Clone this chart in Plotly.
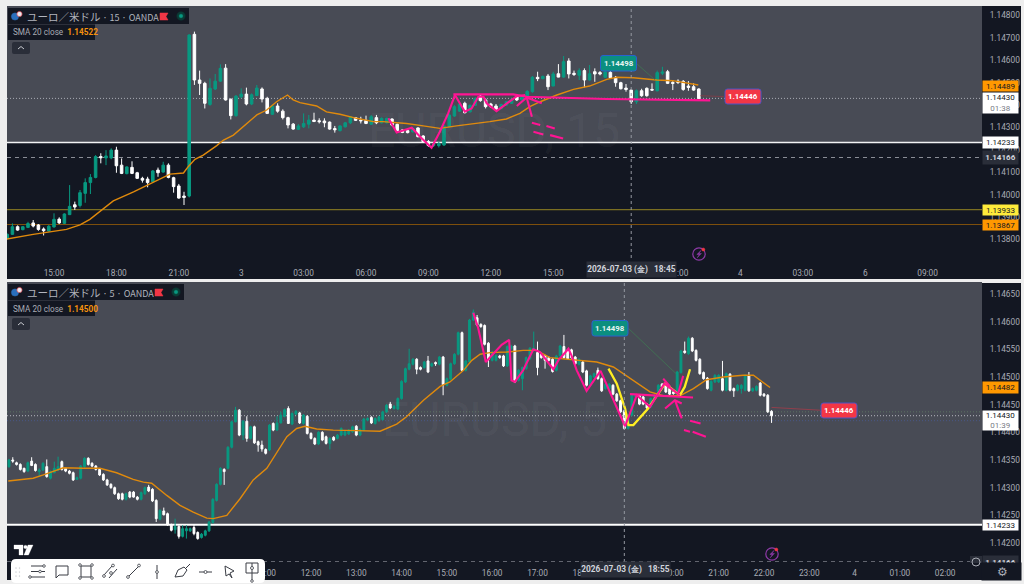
import plotly.graph_objects as go

W, H = 1024, 584

# ---- 15 minute pane (prices in 1/100000 above 1.0) ----
t_first_bar = -9
t_open = [13805,13823,13857,13844,13854,13874,13865,13847,13838,13856,13891,13872,13911,13955,13952,14006,14054,14077,14170,14164,
14164,14199,14132,14094,14122,14098,14073,14070,14058,14110,14101,14132,14076,14039,13994,13994,14716,14512,14497,14403,
14472,14507,14565,14426,14353,14437,14449,14405,14443,14472,14430,14359,14396,14373,14344,14315,14292,14303,14315,14333,
14330,14329,14324,14295,14286,14303,14321,14344,14333,14332,14315,14344,14321,14321,14338,14314,14289,14286,14281,14298,
14262,14237,14220,14219,14222,14304,14351,14373,14408,14370,14399,14440,14423,14405,14396,14385,14400,14408,14437,14423,
14440,14460,14524,14518,14530,14485,14540,14525,14597,14542,14533,14554,14512,14549,14545,14524,14546,14524,14500,14476,
14467,14415,14464,14475,14470,14464,14542,14549,14501,14507,14506,14485,14482,14472]
t_high = [13827,13872,13863,13860,13879,13887,13869,13854,13865,13917,13899,13917,14043,13969,14021,14073,14092,14177,14185,14199,
14207,14214,14162,14127,14149,14102,14080,14080,14110,14121,14147,14140,14080,14048,14013,14716,14728,14554,14504,14519,
14539,14582,14583,14430,14445,14475,14478,14452,14490,14479,14437,14400,14408,14381,14348,14320,14315,14363,14356,14366,
14341,14341,14327,14307,14310,14325,14351,14347,14348,14353,14356,14356,14345,14344,14341,14318,14292,14289,14300,14301,
14266,14244,14232,14237,14310,14363,14400,14415,14415,14403,14433,14445,14430,14410,14405,14406,14418,14430,14441,14441,
14467,14530,14549,14532,14539,14549,14583,14619,14609,14554,14564,14564,14579,14564,14552,14552,14557,14530,14504,14494,
14470,14470,14473,14479,14497,14554,14571,14557,14512,14515,14512,14507,14497,14475]
t_low = [13801,13820,13839,13841,13851,13854,13839,13818,13835,13853,13869,13869,13909,13932,13943,13964,14003,14073,14140,14132,
14158,14098,14092,14091,14092,14070,14054,14033,14055,14080,14098,14073,14009,13982,13954,13988,14490,14445,14385,14397,
14467,14504,14420,14336,14348,14430,14399,14400,14440,14412,14360,14356,14366,14336,14296,14290,14289,14298,14296,14324,
14318,14301,14290,14277,14282,14300,14315,14329,14318,14315,14311,14315,14318,14318,14306,14282,14275,14274,14277,14256,
14233,14214,14213,14211,14218,14301,14348,14370,14363,14366,14396,14415,14385,14388,14373,14381,14396,14405,14418,14420,
14437,14455,14507,14515,14467,14485,14524,14522,14519,14530,14512,14479,14509,14504,14533,14521,14519,14482,14470,14460,
14405,14405,14437,14437,14464,14461,14534,14494,14467,14494,14464,14464,14464,14427]
t_close = [13823,13857,13842,13857,13871,13860,13845,13839,13859,13890,13874,13914,13948,13945,14009,14054,14077,14170,14165,14173,
14199,14129,14095,14124,14095,14073,14065,14054,14106,14098,14132,14077,14036,13985,13988,14713,14512,14497,14408,14475,
14507,14564,14423,14353,14440,14449,14405,14446,14476,14427,14363,14396,14373,14344,14311,14293,14307,14318,14333,14327,
14326,14321,14293,14290,14307,14321,14348,14332,14330,14318,14348,14321,14341,14341,14311,14286,14278,14277,14296,14259,
14237,14220,14226,14229,14307,14356,14393,14405,14366,14399,14430,14420,14393,14393,14381,14403,14415,14425,14423,14437,
14461,14524,14518,14528,14482,14539,14525,14594,14539,14537,14554,14512,14540,14539,14539,14548,14522,14500,14473,14470,
14415,14464,14442,14442,14467,14545,14548,14497,14497,14501,14470,14479,14467,14430]

t_sma_bar = [-9.1,-4,2.4,5,6.9,9.5,11.4,15.3,20.4,22.3,24.9,25.8,27.1,28.7,31.3,32.6,34.5,36.7,39,40.9,42.8,44.9,46,47.3,50.5,52.4,55,
58.2,61.4,63.3,67.8,71,74.2,77.4,80.6,83.8,87,89.6,91.5,93.5,96.7,99.9,103,106.3,108.2,111.4,115.9,119,123.9]
t_sma_val = [13802,13823,13845,13865,13890,13939,13972,14013,14068,14092,14097,14125,14158,14177,14219,14244,14266,14311,14356,14378,14415,14445,14423,14411,14396,14370,14359,
14341,14326,14326,14318,14307,14296,14307,14315,14326,14338,14363,14393,14415,14445,14470,14485,14515,14524,14522,14512,14509,14490]

t_tick_bar = [0,12,24,36,48,60,72,84,96,108,120,132,144,156,168]
t_tick_txt = ["15:00","18:00","21:00","3","03:00","06:00","09:00","12:00","15:00","18:00","21:00","4","03:00","6","09:00"]
t_price_ticks = [14800,14700,14600,14500,14400,14300,14200,14100,14000,13900,13800]

# hand drawn strokes, top pane (bar, price)
t_pink = [
 ([64.3,65.9,68.8,70.4,72.6,74.2,75.8,77.1,79,80.3,81.6,82.6,83.2,85.1,89,90.6],
  [14341,14278,14299,14259,14210,14281,14363,14445,14371,14385,14437,14437,14408,14373,14440,14445]),
 ([76.8,88.3,90.9,106.3,126.2],[14448,14448,14437,14427,14421]),
 ([89,90.9,93.8],[14396,14434,14408]),
 ([90.9,91.9],[14434,14348]),
 ([91.9,93.5],[14321,14311]),
 ([94.7,96.3],[14307,14296]),
 ([92.2,94.1],[14281,14269]),
 ([95.4,97.9],[14266,14251]),
]

# ---- 5 minute pane ----
b_first_bar = -80
b_open = [14338,14350,14345,14342,14335,14330,14348,14342,14329,14332,14338,14317,14327,14332,14347,14335,14330,14327,14315,14317,
14338,14353,14344,14339,14333,14324,14314,14306,14300,14289,14289,14279,14292,14292,14283,14279,14289,14301,14297,14277,
14243,14258,14253,14233,14224,14230,14212,14222,14222,14228,14219,14210,14214,14222,14237,14277,14306,14333,14335,14373,
14419,14440,14395,14420,14389,14410,14383,14377,14369,14368,14416,14404,14417,14429,14443,14415,14433,14435,14416,14429,
14398,14389,14379,14400,14392,14380,14391,14389,14395,14395,14397,14401,14411,14395,14404,14422,14427,14416,14421,14423,
14437,14451,14443,14442,14461,14491,14514,14523,14532,14517,14517,14529,14520,14526,14523,14536,14485,14496,14524,14541,
14580,14512,14527,14603,14607,14595,14593,14561,14530,14530,14538,14538,14520,14551,14556,14494,14497,14515,14533,14548,
14544,14541,14538,14535,14532,14512,14538,14555,14547,14549,14536,14523,14527,14511,14485,14500,14512,14497,14479,14479,
14485,14469,14457,14439,14407,14431,14464,14467,14464,14451,14446,14461,14467,14487,14487,14479,14473,14469,14508,14547,
14542,14570,14548,14532,14508,14498,14476,14491,14491,14497,14476,14505,14479,14476,14479,14476,14503,14475,14476,14489,
14469,14467,14438]
b_high = [14352,14355,14347,14344,14336,14347,14355,14344,14335,14346,14351,14331,14347,14356,14349,14337,14332,14329,14320,14341,
14355,14355,14346,14341,14335,14326,14316,14308,14302,14291,14291,14291,14294,14294,14285,14293,14302,14305,14299,14279,
14261,14264,14255,14235,14244,14232,14232,14232,14228,14234,14221,14218,14224,14240,14281,14308,14337,14335,14375,14421,
14446,14442,14422,14429,14412,14412,14385,14385,14371,14415,14418,14429,14437,14443,14447,14436,14440,14437,14433,14431,
14400,14391,14402,14402,14394,14391,14393,14397,14409,14403,14406,14412,14413,14407,14426,14427,14429,14427,14430,14439,
14451,14455,14449,14463,14494,14517,14551,14534,14534,14519,14529,14538,14526,14528,14538,14538,14499,14526,14543,14582,
14582,14531,14605,14622,14612,14597,14595,14563,14547,14541,14540,14540,14557,14558,14558,14514,14519,14537,14554,14582,
14564,14543,14540,14537,14534,14540,14558,14576,14549,14551,14538,14534,14529,14513,14504,14508,14517,14499,14489,14489,
14487,14471,14459,14441,14433,14469,14469,14469,14466,14453,14463,14469,14487,14489,14489,14481,14475,14511,14549,14564,
14573,14572,14550,14534,14510,14500,14494,14505,14505,14529,14508,14507,14481,14487,14487,14505,14509,14481,14485,14491,
14471,14469,14440]
b_low = [14336,14345,14340,14331,14327,14328,14339,14329,14320,14330,14318,14315,14326,14330,14331,14328,14324,14312,14314,14315,
14336,14340,14337,14331,14321,14312,14303,14298,14287,14278,14277,14277,14281,14282,14277,14277,14287,14292,14274,14238,
14241,14250,14231,14221,14217,14208,14210,14208,14220,14214,14206,14208,14212,14220,14235,14275,14304,14305,14333,14371,
14418,14393,14386,14383,14387,14379,14365,14365,14360,14366,14402,14403,14416,14427,14415,14413,14431,14415,14414,14396,
14387,14377,14377,14384,14378,14369,14384,14387,14393,14393,14395,14399,14393,14393,14402,14420,14415,14414,14419,14421,
14435,14442,14441,14440,14459,14489,14512,14521,14505,14512,14515,14507,14518,14520,14521,14467,14483,14494,14522,14539,
14510,14510,14525,14601,14592,14589,14557,14518,14528,14528,14533,14518,14518,14549,14489,14492,14476,14513,14531,14546,
14503,14533,14515,14528,14508,14510,14536,14533,14531,14533,14522,14521,14507,14483,14483,14498,14495,14473,14477,14477,
14467,14455,14435,14405,14405,14429,14462,14449,14449,14442,14444,14459,14465,14480,14471,14467,14468,14467,14506,14542,
14540,14545,14528,14504,14495,14477,14474,14489,14489,14474,14474,14474,14464,14474,14470,14474,14473,14473,14474,14465,
14464,14435,14417]
b_close = [14350,14348,14342,14333,14329,14345,14340,14331,14332,14344,14320,14329,14335,14338,14333,14330,14326,14314,14318,14339,
14353,14342,14339,14333,14323,14314,14305,14300,14289,14280,14279,14289,14283,14283,14279,14291,14300,14294,14276,14244,
14259,14251,14233,14223,14230,14212,14226,14226,14226,14217,14208,14216,14222,14238,14279,14306,14335,14329,14373,14419,
14440,14395,14420,14389,14410,14381,14377,14370,14362,14413,14404,14417,14431,14441,14416,14434,14438,14417,14431,14398,
14389,14379,14400,14386,14380,14389,14386,14395,14407,14401,14404,14410,14395,14405,14424,14425,14417,14425,14428,14437,
14449,14444,14447,14461,14492,14515,14524,14532,14514,14514,14527,14509,14524,14524,14536,14486,14497,14524,14541,14580,
14512,14529,14603,14617,14594,14591,14559,14532,14545,14539,14535,14520,14555,14556,14491,14512,14517,14535,14552,14552,
14517,14535,14530,14530,14510,14538,14556,14535,14533,14535,14524,14532,14509,14485,14502,14506,14497,14475,14487,14487,
14469,14457,14437,14407,14431,14467,14467,14451,14451,14444,14461,14467,14485,14482,14473,14469,14470,14509,14547,14544,
14570,14547,14530,14506,14497,14479,14492,14503,14503,14476,14506,14476,14475,14485,14485,14503,14475,14479,14483,14467,
14466,14437,14430]

b_sma_bar = [-80.2,-77.1,-73.6,-70.9,-68.3,-65.6,-60.3,-55.9,-51.5,-47.1,-44.4,-42.2,-38.2,-34.7,-31.2,-27.6,-25.9,-22.3,-18.8,-15.3,-11.7,-9.1,-6.4,-3.8,-1.6,1.5,5.9,
12.1,18.3,22.7,25.3,29.8,34.2,36.8,40.4,42.6,44.8,47.4,51.8,56.2,59.8,63.3,67.7,71.3,75.7,80.1,84.5,89.8,93.3,97.7,101.3,104.8,109.2,114.5,117.2,121.6]
b_sma_val = [14312,14314,14317,14323,14329,14336,14335,14335,14327,14315,14310,14308,14286,14268,14256,14245,14244,14250,14280,14314,14335,14362,14392,14407,14411,14406,14404,
14403,14402,14415,14428,14458,14483,14491,14512,14530,14541,14544,14545,14548,14548,14535,14532,14529,14527,14518,14497,14473,14466,14466,14479,14495,14500,14503,14503,14481]

b_tick_bar = [-24,-12,0,12,24,36,48,60,72,84,96,108,120,132,144,156,168]
b_tick_txt = ["10:00","11:00","12:00","13:00","14:00","15:00","16:00","17:00","18:00","19:00","20:00","21:00","22:00","23:00","4","01:00","02:00"]
b_price_ticks = [14650,14600,14550,14500,14450,14400,14350,14300,14250,14200]

b_pink = [
 ([43,44.3,46.3,48.3,50.5,52.5,53.1,54,56.2,58.9,60.7,64.2,65.5,68.2,69,70.4,73,76.7,83.2,86.3,89.8,93.6,97.7],
  [14616,14588,14527,14542,14558,14567,14494,14491,14512,14550,14545,14514,14530,14551,14539,14512,14475,14511,14411,14467,14446,14488,14467]),
 ([84.5,101.2],[14469,14463]),
 ([93.8,96.4,98.2],[14443,14458,14452]),
 ([96.4,98.2],[14458,14425]),
 ([93.3,95.1],[14497,14483]),
 ([98.6,97.3],[14502,14471]),
 ([100.4,103.2],[14421,14416]),
 ([98.8,100.4],[14404,14401]),
 ([101.1,104.6],[14401,14392]),
]
b_yellow = ([78.8,81,83.2,84.1,85.4,89.3,93.8,97.7,99,100.4],
            [14515,14488,14443,14413,14413,14443,14488,14467,14482,14514])

level_white = 14233
level_dash = 14166
level_yellow = 13933
level_orange = 13867
level_last = 14430
level_callout_a = 14437
level_callout_b = 14421

UP, DOWN = "#089981", "#ffffff"
SMA = "#e08a0c"
PINK = "#ff1493"
DARK = "#131722"
GRAY = "#484b55"
LABEL = "#a9acb5"


def pr(v):
    return 1 + v / 100000


def prs(vs):
    return [pr(v) for v in vs]


def fx(x):
    return x / W


def fy(y):
    return 1 - y / H


fig = go.Figure()


def candles(first, o, h, l, c, xa, ya):
    fig.add_trace(go.Candlestick(
        x=list(range(first, first + len(o))), open=prs(o), high=prs(h), low=prs(l), close=prs(c),
        xaxis=xa, yaxis=ya, whiskerwidth=0, hoverinfo="skip", showlegend=False,
        increasing=dict(line=dict(color=UP, width=1), fillcolor=UP),
        decreasing=dict(line=dict(color=DOWN, width=1), fillcolor=DOWN)))


def line(xs, ys, xa, ya, color, width):
    fig.add_trace(go.Scatter(x=xs, y=prs(ys), xaxis=xa, yaxis=ya, mode="lines", hoverinfo="skip",
                             showlegend=False, line=dict(color=color, width=width)))


candles(t_first_bar, t_open, t_high, t_low, t_close, "x", "y")
candles(b_first_bar, b_open, b_high, b_low, b_close, "x2", "y2")
line(t_sma_bar, t_sma_val, "x", "y", SMA, 1.4)
line(b_sma_bar, b_sma_val, "x2", "y2", SMA, 1.4)
line([112, 115.6], [14586, 14512], "x", "y", "#3d7d52", 0.7)
line([124.3, 128.8], [14442, 14438], "x", "y", "#8f3a45", 0.7)
line([84.06, 96.7], [14588, 14506], "x2", "y2", "#3d7d52", 0.7)
line([122, 134.8], [14445, 14440], "x2", "y2", "#b03a48", 0.7)
for xs, ys in t_pink:
    line(xs, ys, "x", "y", PINK, 2.1)
line(b_yellow[0], b_yellow[1], "x2", "y2", "#ffee22", 2.3)
for xs, ys in b_pink:
    line(xs, ys, "x2", "y2", PINK, 2.1)

shapes = []
ann = []


def rect(x0, y0, x1, y1, fill, layer="below", ln=None):
    shapes.append(dict(type="rect", xref="paper", yref="paper", x0=fx(x0), x1=fx(x1), y0=fy(y0), y1=fy(y1),
                       fillcolor=fill, layer=layer, line=dict(width=0) if ln is None else ln))


def rrect(x0, y0, x1, y1, r, fill, layer="above", border=None):
    p = (f"M{fx(x0+r)},{fy(y0)} L{fx(x1-r)},{fy(y0)} Q{fx(x1)},{fy(y0)} {fx(x1)},{fy(y0+r)} "
         f"L{fx(x1)},{fy(y1-r)} Q{fx(x1)},{fy(y1)} {fx(x1-r)},{fy(y1)} L{fx(x0+r)},{fy(y1)} "
         f"Q{fx(x0)},{fy(y1)} {fx(x0)},{fy(y1-r)} L{fx(x0)},{fy(y0+r)} Q{fx(x0)},{fy(y0)} {fx(x0+r)},{fy(y0)} Z")
    ln = dict(color=border, width=1) if border else dict(width=0)
    shapes.append(dict(type="path", xref="paper", yref="paper", path=p, fillcolor=fill, layer=layer, line=ln))


def poly(pts, color="#333333", width=1, fill=None, close=False, layer="above"):
    p = "M" + " L".join(f"{fx(a)},{fy(b)}" for a, b in pts) + (" Z" if close else "")
    shapes.append(dict(type="path", xref="paper", yref="paper", path=p, layer=layer,
                       fillcolor=fill if fill else "rgba(0,0,0,0)", line=dict(color=color, width=width)))


def circ(cx, cy, r, fill="rgba(0,0,0,0)", color="#333333", width=1, layer="above"):
    shapes.append(dict(type="circle", xref="paper", yref="paper", x0=fx(cx - r), x1=fx(cx + r), y0=fy(cy - r), y1=fy(cy + r),
                       fillcolor=fill, layer=layer, line=dict(color=color, width=width)))


def level(v, xd, ya, color, width, dash="solid"):
    shapes.append(dict(type="line", xref=xd, yref=ya, x0=0, x1=1, y0=pr(v), y1=pr(v), layer="below",
                       line=dict(color=color, width=width, dash=dash)))


def text(x, y, s, size=8, color=LABEL, anchor="left", fam="Roboto", **kw):
    ann.append(dict(xref="paper", yref="paper", x=fx(x), y=fy(y), text=s, showarrow=False, xanchor=anchor, yanchor="middle",
                    font=dict(family=fam, size=size, color=color), borderpad=0, **kw))


def tag(x0, y0, x1, y1, s, bg, fg, size=8):
    ann.append(dict(xref="paper", yref="paper", x=fx((x0 + x1) / 2), y=fy((y0 + y1) / 2), text=s, showarrow=False,
                    xanchor="center", yanchor="middle", width=x1 - x0, height=y1 - y0, align="center", valign="middle",
                    bgcolor=bg, borderpad=0, font=dict(family="Roboto", size=size, color=fg)))


def callout(x0, y0, x1, y1, s, bg, border, fg):
    rrect(x0, y0, x1, y1, 2.5, bg, "above", border)
    text((x0 + x1) / 2, (y0 + y1) / 2, f"<b>{s}</b>", 7.8, fg, "center")


# page background and pane backgrounds
rect(7, 6, 1021, 279, DARK)
rect(7, 283, 1021, 580, DARK)
shapes.append(dict(type="rect", xref="x domain", yref="y", x0=0, x1=1, y0=pr(level_white), y1=1.148424,
                   fillcolor=GRAY, layer="below", line=dict(width=0)))
shapes.append(dict(type="rect", xref="x2 domain", yref="y2", x0=0, x1=1, y0=pr(level_white), y1=1.146716,
                   fillcolor=GRAY, layer="below", line=dict(width=0)))

level(level_white, "x domain", "y", "#f2f3f5", 1.6)
level(level_dash, "x domain", "y", "#8a8d96", 1, "4px,4px")
level(level_yellow, "x domain", "y", "#7b6f22", 1.2)
level(level_orange, "x domain", "y", "#7d4f0c", 1.2)
level(level_last, "x domain", "y", "#a9acb5", 1, "1px,2px")
level(level_white, "x2 domain", "y2", "#ffffff", 2)
level(level_dash, "x2 domain", "y2", "#8a8d96", 1, "4px,4px")
level(level_last, "x2 domain", "y2", "#b6b8bf", 1, "1px,2px")
level(level_callout_a, "x2 domain", "y2", "#5f7a66", 0.8, "1px,2px")
level(level_callout_b, "x2 domain", "y2", "#4a5c94", 0.8, "1px,2px")

# crosshair
shapes.append(dict(type="line", xref="x", yref="y domain", x0=111, x1=111, y0=0, y1=1, layer="above",
                   line=dict(color="#9598a1", width=1, dash="3px,3px")))
shapes.append(dict(type="line", xref="x2", yref="y2 domain", x0=83, x1=83, y0=0, y1=1, layer="above",
                   line=dict(color="#9598a1", width=1, dash="3px,3px")))


def header(y0, title, tf, sma, flagx, dotx, boxr):
    rect(8, y0, boxr, y0 + 16, DARK, "above")
    rect(8, y0 + 16.5, 95, y0 + 32, DARK, "above")
    rrect(12, y0 + 34, 30, y0 + 46, 2, "#2a2e39")
    poly([(18, y0 + 41), (21, y0 + 38.5), (24, y0 + 41)], "#c8cad0", 1)
    circ(15, y0 + 8.5, 3.6, "#2a6fbd", "#2a6fbd", 0.5)
    circ(19.5, y0 + 6, 2.6, "#e9e9ee", "#d9434e", 0.7)
    poly([(flagx, y0 + 5), (flagx + 8, y0 + 5), (flagx + 6, y0 + 8.5), (flagx + 8, y0 + 12), (flagx, y0 + 12)],
         "#f23645", 0.5, "#f23645", True)
    circ(dotx, y0 + 8, 4.2, "#0b3b35", "#0b3b35", 0.5)
    circ(dotx, y0 + 8, 1.8, "#089981", "#089981", 0.5)
    text(26, y0 + 8, f"{title}<span style='font-size:9px'> · {tf} · OANDA</span>", 10.5, "#b2b5be", fam="Noto Sans CJK JP")
    text(12, y0 + 24.5, f"SMA 20 close  <span style='color:#f5910d'><b>{sma}</b></span>", 8.2, "#a9acb5")


header(8, "ユーロ／米ドル", "15", "1.14522", 160, 181, 189)
header(284, "ユーロ／米ドル", "5", "1.14500", 155, 176, 184)


def bolt(cx, cy):
    circ(cx, cy, 6.2, "rgba(0,0,0,0)", "#8e3aa8", 1.2)
    poly([(cx + 2, cy - 3.5), (cx - 2.2, cy + 0.5), (cx + 0.3, cy + 0.5), (cx - 1.8, cy + 3.8), (cx + 2.4, cy - 0.6), (cx - 0.1, cy - 0.6)],
         "#8e3aa8", 0.5, "#8e3aa8", True)
    circ(cx + 4.3, cy - 4.5, 1.5, "#f23645", "#f23645", 0.5)


bolt(699, 254)
bolt(772, 554)

# TradingView mark
poly([(14, 545), (23, 545), (23, 555), (19, 555), (19, 549), (14, 549)], "#ffffff", 0.3, "#ffffff", True)
circ(25.5, 547, 1.8, "#ffffff", "#ffffff", 0.2)
poly([(28, 545), (33, 545), (28.5, 555), (24, 555)], "#ffffff", 0.3, "#ffffff", True)

# drawing toolbar
rrect(11, 559, 265, 583, 5, "#ffffff")
ic = "#3a3d45"
for yy in (566, 571.5, 577):
    poly([(31, yy), (45, yy)], ic, 1)
for xx, yy in ((30, 577), (44, 566), (40, 571.5)):
    circ(xx, yy, 1.3, "#ffffff", ic, 0.8)
poly([(56, 566), (68, 566), (68, 575), (59, 575), (56, 578), (56, 566)], ic, 1)
poly([(81, 566), (91, 566), (91, 577), (81, 577), (81, 566)], ic, 1)
for xx, yy in ((80, 565), (92, 565), (80, 578), (92, 578)):
    circ(xx, yy, 1.3, "#ffffff", ic, 0.8)
poly([(104, 575), (112, 566)], ic, 1)
poly([(109, 578), (117, 569)], ic, 1)
circ(113, 565.5, 1.4, "#ffffff", ic, 0.8)
circ(104, 576, 1.4, "#ffffff", ic, 0.8)
circ(111, 573, 1.4, "#ffffff", ic, 0.8)
poly([(128, 577), (139, 566)], ic, 1)
circ(128, 577, 1.4, "#ffffff", ic, 0.8)
circ(139, 565.5, 1.4, "#ffffff", ic, 0.8)
poly([(157, 565), (157, 579)], ic, 1)
circ(157, 572, 1.4, "#ffffff", ic, 0.8)
poly([(175, 577), (178, 570), (184, 567), (187, 570), (183, 576), (175, 577)], ic, 1)
poly([(186, 568), (190, 564)], ic, 1)
poly([(199, 572), (212, 572)], ic, 1)
circ(205.5, 572, 1.5, "#ffffff", ic, 0.8)
poly([(225, 566), (234, 571), (230, 573), (232, 578), (229, 574), (226, 576), (225, 566)], ic, 1)
poly([(246, 563), (258, 563), (258, 573), (246, 573), (246, 563)], ic, 1)
poly([(252, 563), (252, 581)], ic, 1)
circ(252, 581, 1.3, "#ffffff", ic, 0.8)
circ(252, 568, 1.5, "#ffffff", ic, 0.8)
for yy in (568, 572, 576):
    for xx in (16, 19.5):
        circ(xx, yy, 0.6, "#c5c7cc", "#c5c7cc", 0.2)

# small control at the corner of the lower price scale
rect(970, 556, 982, 563, "#2a2e39", "above")
circ(976, 562, 4, "rgba(0,0,0,0)", "#a9acb5", 1)

# watermarks
text(494, 130, "EURUSD, 15", 48, "rgba(255,255,255,0.055)", "center")
text(494, 419, "EURUSD, 5", 48, "rgba(255,255,255,0.055)", "center")

# callouts on the chart
callout(600.5, 55.5, 636.5, 71, "1.14498", "#0b8f7f", "#2862d0", "#e6f5f2")
callout(725, 89, 761, 104, "1.14446", "#f23645", "#4b55c8", "#ffffff")
callout(592, 320.5, 628, 336, "1.14498", "#0b8f7f", "#2862d0", "#e6f5f2")
callout(821, 403, 857, 418, "1.14446", "#f23645", "#4b55c8", "#ffffff")

# price scale tags, top
tag(983, 81, 1018, 91, "1.14489", "#ff9800", "#131722", 8)
tag(983, 93, 1018, 113, "1.14430<br><span style='color:#787b86'>01:38</span>", "#ffffff", "#131722", 8)
tag(983, 137.5, 1018, 148, "1.14233", "#ffffff", "#131722", 8)
tag(983, 151, 1018, 164, "<b>1.14166</b>", "#2a2e39", "#d1d4dc", 8)
tag(983, 205, 1018, 215, "1.13933", "#ffeb3b", "#131722", 8)
tag(983, 220, 1018, 230, "1.13867", "#ff9800", "#131722", 8)
# price scale tags, bottom
tag(983, 382, 1018, 393, "1.14482", "#ff9800", "#131722", 8)
tag(983, 411, 1018, 430, "1.14430<br><span style='color:#787b86'>01:39</span>", "#ffffff", "#131722", 8)
tag(983, 520, 1018, 530, "1.14233", "#ffffff", "#131722", 8)
tag(983, 556, 1018, 568, "<b>1.14166</b>", "#2a2e39", "#d1d4dc", 8)
tag(982, 563, 1021, 580, " ", DARK, DARK, 8)
text(1002, 571.5, "⚙", 12, "#a9acb5", "center", fam="DejaVu Sans")

# crosshair time labels
tag(587, 262, 676, 277, "<b>2026-07-03 (金)   18:45</b>", "#2a2e39", "#d1d4dc", 8.3)
tag(581, 562, 670, 577, "<b>2026-07-03 (金)   18:55</b>", "#2a2e39", "#d1d4dc", 8.3)

common_x = dict(showgrid=False, zeroline=False, showline=False, ticks="outside", tickcolor="rgba(0,0,0,0)",
                tickfont=dict(family="Roboto", size=8.3, color=LABEL), rangeslider=dict(visible=False),
                domain=[fx(7), fx(982)], tickmode="array", fixedrange=True)
common_y = dict(showgrid=False, zeroline=False, showline=False, ticks="outside", tickcolor="rgba(0,0,0,0)",
                tickfont=dict(family="Roboto", size=8.3, color=LABEL), side="right", tickmode="array",
                ticklen=5, fixedrange=True, tickformat=".5f")

fig.update_layout(
    width=W, height=H, autosize=False,
    margin=dict(l=0, r=0, t=0, b=0),
    paper_bgcolor="#eeeeee", plot_bgcolor="rgba(0,0,0,0)",
    showlegend=False, hovermode=False, boxgap=0.3,
    xaxis=dict(common_x, anchor="y", range=[-9.04, 178.46], tickvals=t_tick_bar, ticktext=t_tick_txt, ticklen=7),
    yaxis=dict(common_y, anchor="x", domain=[fy(258), fy(6)], range=[1.137174, 1.148424], tickvals=prs(t_price_ticks)),
    xaxis2=dict(common_x, anchor="y2", range=[-80.53, 177.75], tickvals=b_tick_bar, ticktext=b_tick_txt, ticklen=3),
    yaxis2=dict(common_y, anchor="x2", domain=[fy(562), fy(282)], range=[1.141657, 1.146716], tickvals=prs(b_price_ticks)),
    shapes=shapes, annotations=ann,
)

fig.write_html("out.html", config={"displayModeBar": False},
               post_script="document.body.style.margin='0';document.body.style.overflow='hidden';")
